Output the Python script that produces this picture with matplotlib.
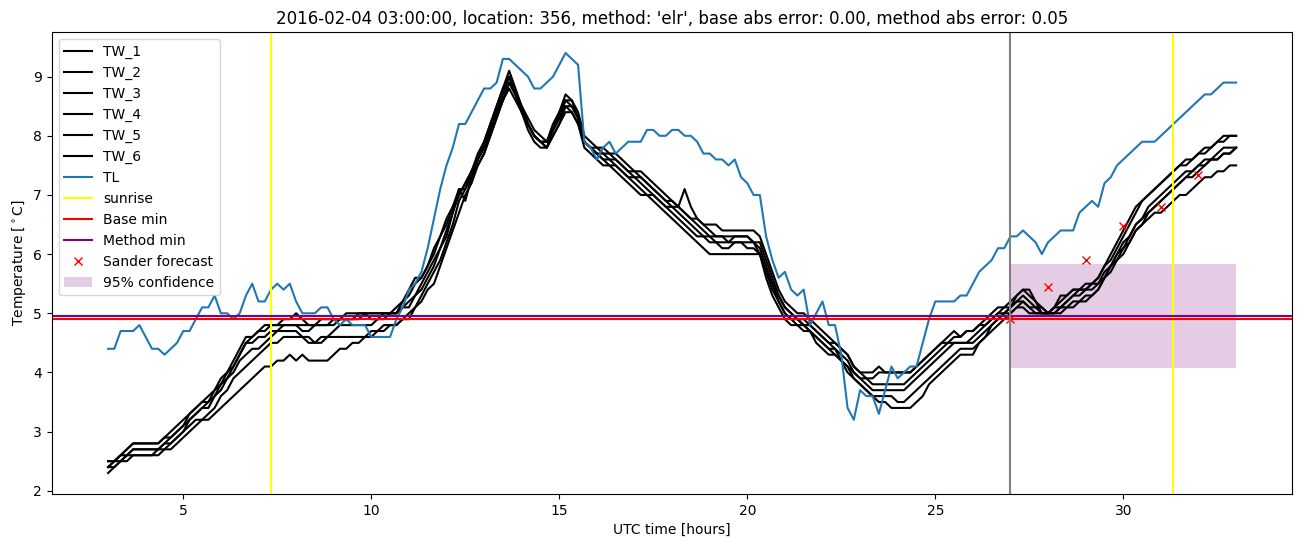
import numpy as np
import matplotlib
matplotlib.use("Agg")
import matplotlib.pyplot as plt

# ---------------- data ----------------
# all series: 10-minute samples from 3.0 h to 33.0 h (one row per hour)
hours = np.linspace(3, 33, 181)

TL = [
    4.4, 4.4, 4.7, 4.7, 4.7, 4.8,   # 3
    4.6, 4.4, 4.4, 4.3, 4.4, 4.5,   # 4
    4.7, 4.7, 4.9, 5.1, 5.1, 5.3,   # 5
    5.0, 5.0, 4.9, 5.0, 5.3, 5.5,   # 6
    5.2, 5.2, 5.4, 5.5, 5.4, 5.5,   # 7
    5.2, 5.0, 5.0, 5.0, 5.1, 5.1,   # 8
    4.9, 4.8, 4.9, 4.8, 4.8, 4.8,   # 9
    4.6, 4.6, 4.6, 4.6, 4.9, 5.1,   # 10
    5.4, 5.5, 5.7, 6.1, 6.6, 7.1,   # 11
    7.5, 7.8, 8.2, 8.2, 8.4, 8.6,   # 12
    8.8, 8.8, 8.9, 9.3, 9.3, 9.2,   # 13
    9.1, 9.0, 8.8, 8.8, 8.9, 9.0,   # 14
    9.2, 9.4, 9.3, 9.2, 7.9, 7.8,   # 15
    7.6, 7.8, 7.9, 7.7, 7.8, 7.9,   # 16
    7.9, 7.9, 8.1, 8.1, 8.0, 8.0,   # 17
    8.1, 8.1, 8.0, 8.0, 7.9, 7.7,   # 18
    7.7, 7.6, 7.6, 7.5, 7.6, 7.3,   # 19
    7.2, 7.0, 7.0, 6.3, 5.9, 5.6,   # 20
    5.7, 5.4, 5.3, 5.4, 4.8, 5.0,   # 21
    5.2, 4.8, 4.8, 4.3, 3.4, 3.2,   # 22
    3.7, 3.6, 3.6, 3.3, 3.7, 4.1,   # 23
    3.9, 4.0, 4.1, 4.1, 4.5, 4.9,   # 24
    5.2, 5.2, 5.2, 5.2, 5.3, 5.3,   # 25
    5.5, 5.7, 5.8, 5.9, 6.1, 6.1,   # 26
    6.3, 6.3, 6.4, 6.3, 6.2, 6.0,   # 27
    6.2, 6.3, 6.4, 6.4, 6.4, 6.7,   # 28
    6.8, 6.9, 6.8, 7.2, 7.3, 7.5,   # 29
    7.6, 7.7, 7.8, 7.9, 7.9, 7.9,   # 30
    8.0, 8.1, 8.2, 8.3, 8.4, 8.5,   # 31
    8.6, 8.7, 8.7, 8.8, 8.9, 8.9,   # 32
    8.9,
]

TW_1 = [
    2.5, 2.5, 2.6, 2.7, 2.8, 2.8,
    2.8, 2.8, 2.8, 2.9, 3.0, 3.1,
    3.2, 3.3, 3.4, 3.5, 3.6, 3.7,
    3.9, 4.0, 4.2, 4.4, 4.6, 4.6,
    4.7, 4.7, 4.8, 4.8, 4.9, 4.9,
    5.0, 4.9, 4.8, 4.8, 4.8, 4.8,
    4.9, 4.9, 5.0, 5.0, 5.0, 5.0,
    5.0, 5.0, 5.0, 5.0, 5.1, 5.2,
    5.4, 5.6, 5.6, 5.8, 6.1, 6.3,
    6.6, 6.8, 7.1, 7.1, 7.4, 7.6,
    7.9, 8.2, 8.5, 8.8, 9.1, 8.8,
    8.5, 8.2, 8.0, 7.9, 7.9, 8.1,
    8.4, 8.7, 8.6, 8.3, 7.9, 7.8,
    7.8, 7.8, 7.7, 7.7, 7.6, 7.5,
    7.4, 7.4, 7.3, 7.2, 7.1, 7.0,
    6.9, 6.8, 7.1, 6.8, 6.6, 6.5,
    6.5, 6.5, 6.4, 6.4, 6.4, 6.4,
    6.4, 6.4, 6.3, 6.0, 5.7, 5.4,
    5.2, 5.1, 5.0, 5.0, 4.9, 4.8,
    4.7, 4.6, 4.5, 4.4, 4.3, 4.1,
    4.0, 4.0, 4.0, 4.1, 4.0, 4.0,
    4.0, 4.0, 4.0, 4.1, 4.2, 4.3,
    4.4, 4.5, 4.6, 4.7, 4.6, 4.7,
    4.7, 4.8, 4.9, 5.0, 5.1, 5.1,
    5.2, 5.3, 5.4, 5.4, 5.2, 5.1,
    5.0, 5.1, 5.3, 5.3, 5.4, 5.4,
    5.5, 5.5, 5.6, 5.8, 6.0, 6.2,
    6.4, 6.6, 6.8, 6.9, 7.0, 7.1,
    7.2, 7.3, 7.4, 7.5, 7.6, 7.6,
    7.7, 7.7, 7.8, 7.9, 8.0, 8.0,
    8.0,
]

TW_2 = [
    2.4, 2.5, 2.6, 2.7, 2.8, 2.8,
    2.8, 2.8, 2.8, 2.9, 2.9, 3.0,
    3.1, 3.3, 3.4, 3.5, 3.5, 3.7,
    3.8, 4.0, 4.1, 4.3, 4.5, 4.6,
    4.7, 4.8, 4.8, 4.8, 4.8, 4.8,
    4.8, 4.7, 4.7, 4.8, 4.8, 4.8,
    4.8, 4.9, 4.9, 4.9, 4.9, 5.0,
    5.0, 5.0, 5.0, 5.0, 5.0, 5.2,
    5.3, 5.5, 5.6, 5.8, 6.0, 6.3,
    6.5, 6.8, 7.0, 7.2, 7.4, 7.7,
    7.9, 8.2, 8.5, 8.8, 9.0, 8.7,
    8.4, 8.2, 8.0, 7.9, 7.9, 8.2,
    8.4, 8.6, 8.6, 8.4, 8.0, 7.9,
    7.8, 7.7, 7.7, 7.6, 7.5, 7.4,
    7.4, 7.3, 7.2, 7.1, 7.0, 6.9,
    6.9, 6.8, 6.7, 6.6, 6.6, 6.5,
    6.4, 6.3, 6.3, 6.3, 6.3, 6.3,
    6.3, 6.2, 6.2, 5.9, 5.6, 5.3,
    5.1, 5.0, 4.9, 4.8, 4.8, 4.7,
    4.6, 4.5, 4.5, 4.4, 4.3, 4.1,
    4.0, 3.9, 3.9, 4.0, 4.0, 4.0,
    4.0, 4.0, 4.0, 4.1, 4.2, 4.3,
    4.4, 4.5, 4.5, 4.6, 4.6, 4.7,
    4.7, 4.8, 4.8, 4.9, 5.0, 5.1,
    5.1, 5.3, 5.4, 5.3, 5.2, 5.0,
    5.0, 5.1, 5.2, 5.3, 5.4, 5.4,
    5.4, 5.5, 5.6, 5.8, 5.9, 6.1,
    6.3, 6.5, 6.7, 6.9, 7.0, 7.1,
    7.2, 7.3, 7.4, 7.5, 7.5, 7.6,
    7.7, 7.8, 7.8, 7.9, 7.9, 8.0,
    8.0,
]

TW_3 = [
    2.5, 2.5, 2.6, 2.6, 2.7, 2.7,
    2.7, 2.7, 2.7, 2.8, 2.9, 3.0,
    3.1, 3.2, 3.3, 3.4, 3.5, 3.6,
    3.8, 3.9, 4.1, 4.3, 4.5, 4.5,
    4.6, 4.6, 4.7, 4.7, 4.8, 4.8,
    4.8, 4.8, 4.8, 4.8, 4.9, 4.9,
    4.9, 4.9, 4.9, 4.9, 5.0, 5.0,
    4.9, 4.9, 5.0, 5.0, 5.0, 5.1,
    5.2, 5.3, 5.5, 5.7, 5.9, 6.1,
    6.4, 6.7, 7.0, 7.2, 7.4, 7.6,
    7.8, 8.1, 8.4, 8.6, 8.9, 8.7,
    8.5, 8.3, 8.1, 8.0, 7.9, 8.1,
    8.3, 8.6, 8.5, 8.3, 7.9, 7.8,
    7.7, 7.7, 7.6, 7.6, 7.5, 7.4,
    7.3, 7.3, 7.2, 7.1, 7.0, 6.9,
    6.8, 6.8, 6.7, 6.6, 6.5, 6.4,
    6.3, 6.3, 6.3, 6.2, 6.3, 6.3,
    6.3, 6.2, 6.1, 5.8, 5.5, 5.3,
    5.1, 5.0, 4.9, 4.9, 4.8, 4.7,
    4.6, 4.5, 4.4, 4.3, 4.2, 4.0,
    3.9, 3.9, 3.8, 3.8, 3.8, 3.8,
    3.8, 3.8, 3.9, 4.0, 4.1, 4.2,
    4.3, 4.4, 4.5, 4.5, 4.5, 4.5,
    4.6, 4.7, 4.8, 4.9, 5.0, 5.0,
    5.1, 5.2, 5.3, 5.2, 5.1, 5.1,
    5.0, 5.0, 5.1, 5.2, 5.3, 5.3,
    5.4, 5.4, 5.5, 5.6, 5.8, 6.0,
    6.2, 6.3, 6.5, 6.6, 6.8, 6.9,
    7.0, 7.1, 7.2, 7.3, 7.4, 7.4,
    7.5, 7.5, 7.6, 7.6, 7.7, 7.7,
    7.8,
]

TW_4 = [
    2.4, 2.5, 2.5, 2.6, 2.7, 2.7,
    2.7, 2.7, 2.7, 2.8, 2.8, 2.9,
    3.0, 3.2, 3.3, 3.4, 3.4, 3.6,
    3.7, 3.9, 4.0, 4.2, 4.3, 4.4,
    4.4, 4.5, 4.6, 4.7, 4.7, 4.7,
    4.7, 4.6, 4.6, 4.5, 4.5, 4.6,
    4.7, 4.8, 4.8, 4.8, 4.8, 4.8,
    4.8, 4.9, 4.9, 5.0, 5.0, 5.1,
    5.1, 5.3, 5.4, 5.6, 5.8, 6.1,
    6.3, 6.7, 7.1, 6.9, 7.3, 7.6,
    7.8, 8.1, 8.4, 8.7, 9.0, 8.7,
    8.4, 8.2, 8.0, 7.9, 7.8, 8.1,
    8.3, 8.5, 8.5, 8.3, 7.9, 7.8,
    7.7, 7.6, 7.6, 7.5, 7.4, 7.3,
    7.3, 7.2, 7.1, 7.0, 6.9, 6.8,
    6.8, 6.7, 6.6, 6.5, 6.4, 6.3,
    6.3, 6.2, 6.2, 6.2, 6.2, 6.2,
    6.2, 6.2, 6.0, 5.7, 5.5, 5.2,
    5.0, 4.9, 4.9, 4.8, 4.7, 4.6,
    4.5, 4.4, 4.4, 4.2, 4.1, 4.0,
    3.9, 3.8, 3.7, 3.7, 3.7, 3.7,
    3.7, 3.7, 3.8, 3.9, 4.0, 4.1,
    4.2, 4.3, 4.4, 4.5, 4.5, 4.5,
    4.5, 4.6, 4.7, 4.8, 4.9, 5.0,
    5.1, 5.2, 5.2, 5.1, 5.1, 5.0,
    5.0, 5.1, 5.1, 5.2, 5.3, 5.4,
    5.4, 5.5, 5.5, 5.7, 5.8, 6.0,
    6.1, 6.3, 6.5, 6.6, 6.7, 6.8,
    6.9, 7.0, 7.1, 7.2, 7.3, 7.4,
    7.5, 7.6, 7.6, 7.7, 7.8, 7.8,
    7.8,
]

TW_5 = [
    2.4, 2.4, 2.5, 2.5, 2.6, 2.6,
    2.6, 2.6, 2.7, 2.7, 2.8, 2.9,
    3.0, 3.1, 3.2, 3.2, 3.3, 3.4,
    3.6, 3.7, 3.9, 4.0, 4.1, 4.2,
    4.3, 4.4, 4.5, 4.5, 4.6, 4.6,
    4.6, 4.6, 4.5, 4.5, 4.6, 4.6,
    4.6, 4.6, 4.6, 4.6, 4.6, 4.6,
    4.7, 4.7, 4.8, 4.8, 4.8, 4.9,
    5.0, 5.1, 5.3, 5.5, 5.7, 5.9,
    6.2, 6.5, 6.9, 7.1, 7.3, 7.5,
    7.7, 8.0, 8.3, 8.6, 8.9, 8.7,
    8.5, 8.2, 8.0, 7.9, 7.8, 8.0,
    8.2, 8.5, 8.4, 8.2, 7.9, 7.8,
    7.7, 7.6, 7.5, 7.5, 7.4, 7.3,
    7.2, 7.1, 7.0, 7.0, 6.9, 6.8,
    6.7, 6.6, 6.5, 6.4, 6.3, 6.3,
    6.2, 6.2, 6.1, 6.1, 6.2, 6.2,
    6.1, 6.1, 6.0, 5.7, 5.4, 5.2,
    5.0, 4.9, 4.8, 4.8, 4.7, 4.6,
    4.5, 4.4, 4.3, 4.2, 4.1, 3.9,
    3.8, 3.7, 3.6, 3.6, 3.6, 3.6,
    3.5, 3.5, 3.6, 3.7, 3.8, 3.9,
    4.0, 4.1, 4.2, 4.3, 4.4, 4.4,
    4.4, 4.5, 4.6, 4.7, 4.8, 4.9,
    5.0, 5.1, 5.2, 5.1, 5.0, 5.0,
    5.0, 5.0, 5.1, 5.1, 5.2, 5.2,
    5.3, 5.3, 5.4, 5.6, 5.8, 5.9,
    6.1, 6.2, 6.4, 6.5, 6.7, 6.8,
    6.9, 7.0, 7.1, 7.2, 7.3, 7.3,
    7.4, 7.5, 7.6, 7.6, 7.7, 7.7,
    7.8,
]

TW_6 = [
    2.3, 2.4, 2.5, 2.6, 2.6, 2.6,
    2.6, 2.6, 2.6, 2.7, 2.7, 2.8,
    2.9, 3.0, 3.1, 3.2, 3.2, 3.3,
    3.4, 3.5, 3.6, 3.7, 3.8, 3.9,
    4.0, 4.1, 4.1, 4.2, 4.2, 4.3,
    4.2, 4.3, 4.2, 4.2, 4.2, 4.2,
    4.3, 4.4, 4.4, 4.5, 4.5, 4.6,
    4.6, 4.7, 4.7, 4.8, 4.8, 4.9,
    4.9, 5.1, 5.2, 5.4, 5.5, 5.8,
    6.1, 6.4, 6.7, 7.0, 7.2, 7.5,
    7.7, 8.0, 8.3, 8.6, 8.8, 8.6,
    8.4, 8.1, 7.9, 7.8, 7.8, 8.0,
    8.2, 8.4, 8.4, 8.2, 7.8, 7.7,
    7.6, 7.5, 7.5, 7.4, 7.3, 7.2,
    7.1, 7.0, 7.0, 6.9, 6.8, 6.7,
    6.6, 6.5, 6.4, 6.3, 6.2, 6.1,
    6.0, 6.0, 6.0, 6.0, 6.0, 6.0,
    6.0, 6.0, 6.0, 5.6, 5.3, 5.1,
    4.9, 4.8, 4.8, 4.7, 4.7, 4.5,
    4.4, 4.3, 4.3, 4.2, 4.0, 3.9,
    3.8, 3.7, 3.6, 3.5, 3.5, 3.4,
    3.4, 3.4, 3.4, 3.5, 3.6, 3.8,
    3.9, 4.0, 4.1, 4.2, 4.3, 4.3,
    4.3, 4.5, 4.6, 4.8, 4.9, 5.0,
    5.0, 5.1, 5.1, 5.0, 5.0, 5.0,
    5.0, 5.0, 5.0, 5.1, 5.1, 5.2,
    5.2, 5.3, 5.4, 5.6, 5.7, 5.9,
    6.0, 6.2, 6.4, 6.5, 6.6, 6.7,
    6.7, 6.8, 6.9, 7.0, 7.0, 7.1,
    7.2, 7.3, 7.3, 7.4, 7.4, 7.5,
    7.5,
]

tw_series = {"TW_1": TW_1, "TW_2": TW_2, "TW_3": TW_3,
             "TW_4": TW_4, "TW_5": TW_5, "TW_6": TW_6}

sunrise_hours = [7.32, 31.32]
base_min = 4.90
method_min = 4.95
forecast_start = 27.0
forecast_hours = [27, 28, 29, 30, 31, 32]
sander_forecast = [4.90, 5.44, 5.90, 6.48, 6.80, 7.33]
conf_hours = [27, 33]
conf_low = 4.07
conf_high = 5.83

title = ("2016-02-04 03:00:00, location: 356, method: 'elr', "
         "base abs error: 0.00, method abs error: 0.05")

# ---------------- plot ----------------
fig = plt.figure(figsize=(13.02, 5.47), dpi=100)
ax = fig.add_axes([0.0397, 0.0969, 0.953, 0.8446])

for name, vals in tw_series.items():
    ax.plot(hours, vals, color="black", label=name)
ax.plot(hours, TL, color="C0", label="TL")
for i, s in enumerate(sunrise_hours):
    ax.axvline(s, color="yellow", label="sunrise" if i == 0 else None)
ax.axhline(base_min, color="red", label="Base min")
ax.axhline(method_min, color="purple", label="Method min")
ax.plot(forecast_hours, sander_forecast, "x", color="red", label="Sander forecast")
ax.fill_between(conf_hours, conf_low, conf_high, color="purple", alpha=0.2,
                linewidth=0, label="95% confidence")
ax.axvline(forecast_start, color="gray")

ax.set_title(title)
ax.set_xlabel("UTC time [hours]")
ax.set_ylabel(r"Temperature [$^\circ$C]")
ax.legend(loc="upper left")

fig.savefig("out.png", dpi=100)
